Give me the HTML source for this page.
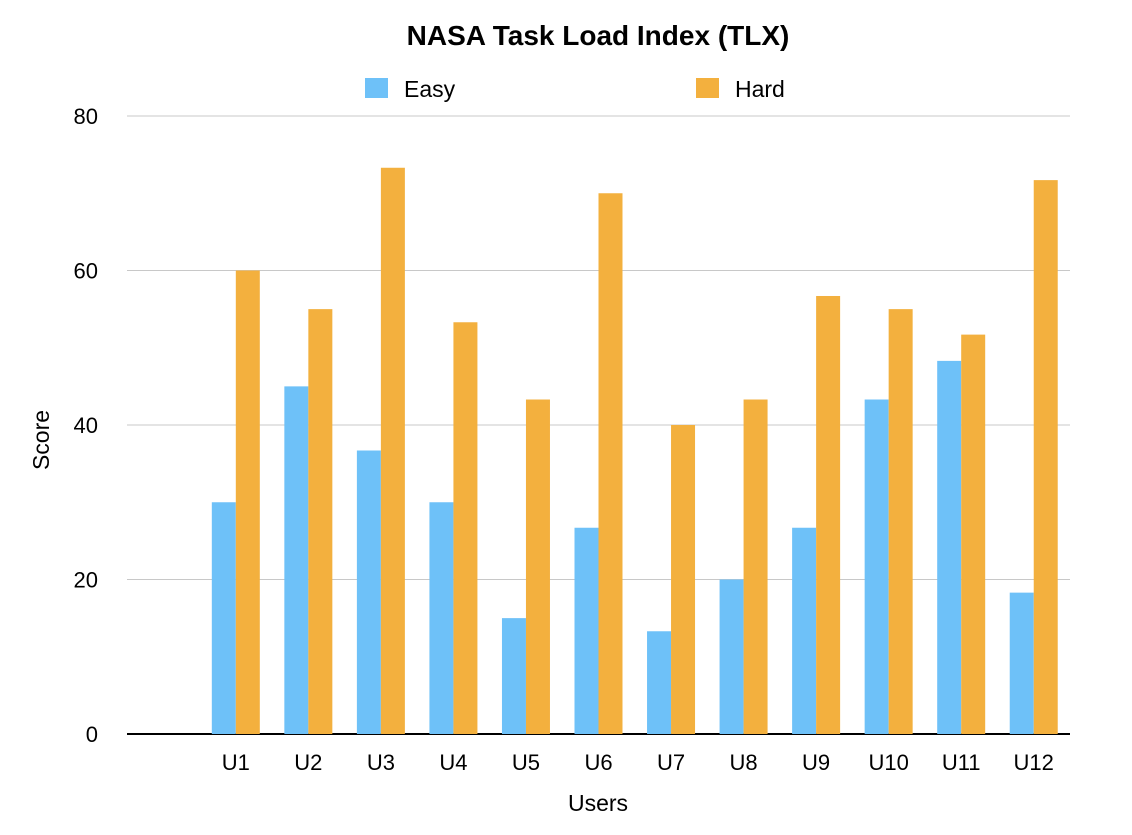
<!DOCTYPE html>
<html><head><meta charset="utf-8"><style>
body{margin:0;background:#fff;}
svg text{font-family:"Liberation Sans",Arial,sans-serif;fill:#000;}
</style></head><body>
<svg id="chart" width="1132" height="830">
<text x="598" y="45" text-anchor="middle" font-size="28" font-weight="bold">NASA Task Load Index (TLX)</text>
<g>
<rect x="365" y="78" width="23" height="20" fill="#6EC1F8"/>
<text x="404" y="97" font-size="23">Easy</text>
<rect x="696" y="78" width="23" height="20" fill="#F3B03E"/>
<text x="735" y="97" font-size="23">Hard</text>
</g>
<g id="grid"></g><g id="bars"></g><g id="xlabels"></g>
<text x="598" y="811" text-anchor="middle" font-size="23">Users</text>
<text transform="translate(49,440) rotate(-90)" text-anchor="middle" font-size="23">Score</text>
</svg>
<script>
const categories=["","U1","U2","U3","U4","U5","U6","U7","U8","U9","U10","U11","U12"];
const easyValues=[null,30,45,36.7,30,15,26.7,13.3,20,26.7,43.3,48.3,18.3];
const hardValues=[null,60,55,73.3,53.3,43.3,70,40,43.3,56.7,55,51.7,71.7];
const yTicks=[0,20,40,60,80];
const NS="http://www.w3.org/2000/svg";
const x0=127,x1=1070,yBase=734,yTop=116,yMax=80;
const slot=(x1-x0)/categories.length;
function yScale(v){return yBase-(v/yMax)*(yBase-yTop);}
function xCenter(i){return x0+slot*(i+0.5);}
function mk(tag,attrs,parent){const e=document.createElementNS(NS,tag);for(const k in attrs)e.setAttribute(k,attrs[k]);parent.appendChild(e);return e;}
const grid=document.getElementById('grid'),bars=document.getElementById('bars'),xl=document.getElementById('xlabels');
yTicks.forEach(t=>{
  const y=yScale(t);
  const l=mk('line',{x1:x0,x2:x1,y1:y,y2:y,stroke:t===0?'#000':'#c8c8c8','stroke-width':t===0?2:1},grid);
  
  
  const tx=mk('text',{x:98,y:y+8,'text-anchor':'end','font-size':22},grid);
  tx.textContent=t;
  
  
});
const bw=24;
categories.forEach((c,i)=>{
  const cx=xCenter(i);
  if(easyValues[i]!=null){
    const r=mk('rect',{x:cx-bw,y:yScale(easyValues[i]),width:bw,height:yBase-yScale(easyValues[i]),fill:'#6EC1F8'},bars);
    
    
  }
  if(hardValues[i]!=null){
    const r=mk('rect',{x:cx,y:yScale(hardValues[i]),width:bw,height:yBase-yScale(hardValues[i]),fill:'#F3B03E'},bars);
    
    
  }
  if(c){
    const t=mk('text',{x:cx,y:770,'text-anchor':'middle','font-size':22},xl);
    t.textContent=c;
    
    
  }
});
</script>
</body></html>
